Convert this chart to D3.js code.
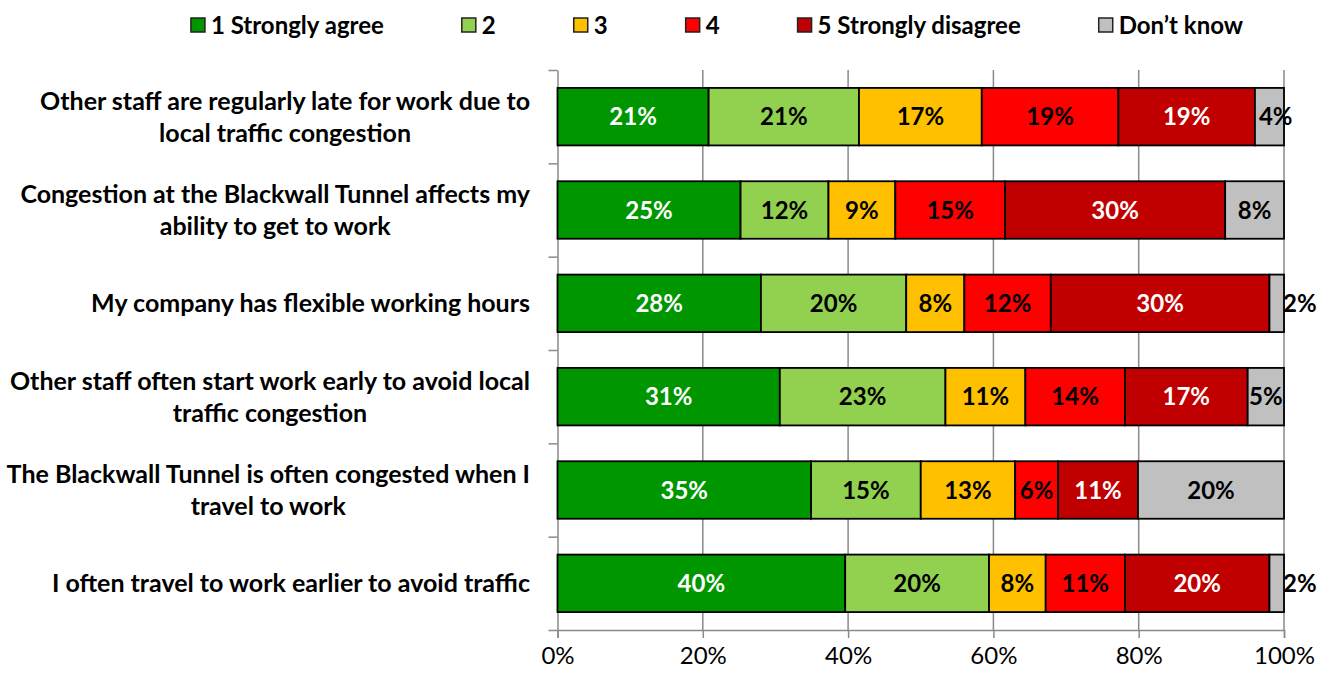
<!DOCTYPE html>
<html>
<head>
<meta charset="utf-8">
<script src="https://cdn.jsdelivr.net/npm/d3@7"></script>
<style>
  html, body { margin: 0; padding: 0; background: #fff; }
  svg { display: block; font-family: Lato, "Liberation Sans", sans-serif; }
</style>
</head>
<body>
<svg id="chart" width="1329" height="675"></svg>
<script>
// Survey statements (line breaks mark where each label wraps)
const categories = [
  "Other staff are regularly late for work due to\nlocal traffic congestion",
  "Congestion at the Blackwall Tunnel affects my\nability to get to work",
  "My company has flexible working hours",
  "Other staff often start work early to avoid local\ntraffic congestion",
  "The Blackwall Tunnel is often congested when I\ntravel to work",
  "I often travel to work earlier to avoid traffic"
];

// Response options
const seriesNames = ["1 Strongly agree", "2", "3", "4", "5 Strongly disagree", "Don’t know"];
const seriesColors = ["#009600", "#92D050", "#FFC000", "#FF0000", "#C00000", "#C0C0C0"];
const labelColors = ["#ffffff", "#000000", "#000000", "#000000", "#ffffff", "#000000"];

// Share of respondents (%) per statement, one array per response option
const stronglyAgree    = [20.8, 25.2, 28.0, 30.6, 34.9, 39.6];
const agree            = [20.7, 12.1, 20.0, 22.8, 15.1, 19.8];
const neutral          = [16.9,  9.2,  8.0, 11.0, 13.0,  7.8];
const disagree         = [18.8, 15.1, 11.9, 13.7,  5.9, 10.9];
const stronglyDisagree = [18.8, 30.3, 30.1, 16.9, 11.0, 19.9];
const dontKnow         = [ 4.0,  8.1,  2.0,  5.0, 20.1,  2.0];

const xTicks = [0, 20, 40, 60, 80, 100];

const seriesValues = [stronglyAgree, agree, neutral, disagree, stronglyDisagree, dontKnow];
const table = categories.map((c, i) => {
  const row = { category: c };
  seriesNames.forEach((s, j) => { row[s] = seriesValues[j][i]; });
  return row;
});

const svg = d3.select("#chart");
const plot = { left: 557.5, right: 1284, top: 70, bottom: 630 };

const x = d3.scaleLinear().domain([0, 100]).range([plot.left, plot.right]);
const y = d3.scaleBand().domain(categories).range([plot.top, plot.bottom])
  .paddingInner(0.384).paddingOuter(0.192);
const yEdges = d3.scaleLinear().domain([0, categories.length]).range([plot.top, plot.bottom]);

const gridColor = "#8a8a8a";

// Vertical gridlines
svg.append("g")
  .selectAll("line")
  .data(xTicks.slice(1))
  .join("line")
  .attr("x1", d => x(d)).attr("x2", d => x(d))
  .attr("y1", plot.top).attr("y2", plot.bottom)
  .attr("stroke", gridColor).attr("stroke-width", 1.5);

// Bottom axis
const xAxis = svg.append("g")
  .attr("transform", `translate(0,${plot.bottom})`)
  .call(d3.axisBottom(x).tickValues(xTicks).tickFormat(d => d + "%").tickSize(8).tickPadding(9));
xAxis.select(".domain").attr("stroke", gridColor).attr("stroke-width", 1.5);
xAxis.selectAll(".tick line").attr("stroke", gridColor).attr("stroke-width", 1.5);
xAxis.selectAll(".tick text")
  .attr("font-family", "Lato, 'Liberation Sans', sans-serif")
  .attr("font-size", 24).attr("fill", "#000").attr("dy", "0.7em");

// Left axis with ticks at category boundaries
const yAxis = svg.append("g")
  .attr("transform", `translate(${plot.left},0)`)
  .call(d3.axisLeft(yEdges).tickValues(d3.range(categories.length + 1)).tickFormat("").tickSize(9).tickSizeOuter(0));
yAxis.select(".domain").attr("stroke", gridColor).attr("stroke-width", 1.5);
yAxis.selectAll(".tick line").attr("stroke", gridColor).attr("stroke-width", 1.5);

// Stacked bars
const stacked = d3.stack().keys(seriesNames)(table);

const layers = svg.append("g")
  .selectAll("g")
  .data(stacked)
  .join("g")
  .attr("fill", (d, i) => seriesColors[i]);

layers.selectAll("rect")
  .data(d => d)
  .join("rect")
  .attr("x", d => x(d[0]))
  .attr("y", d => y(d.data.category))
  .attr("width", d => x(d[1]) - x(d[0]))
  .attr("height", y.bandwidth())
  .attr("stroke", "#000")
  .attr("stroke-width", 1.8);

// Value labels
const valueFontSize = 24;
stacked.forEach((layer, si) => {
  svg.append("g")
    .selectAll("text")
    .data(layer)
    .join("text")
    .text(d => Math.round(d[1] - d[0]) + "%")
    .attr("font-size", valueFontSize)
    .attr("font-weight", "bold")
    .attr("fill", labelColors[si])
    .attr("y", d => y(d.data.category) + y.bandwidth() / 2)
    .attr("dy", "0.36em")
    .each(function (d) {
      const w = x(d[1]) - x(d[0]);
      const t = d3.select(this);
      const tw = this.getComputedTextLength();
      if (w < 20) {
        // very thin segment: label sits just past the bar end
        t.attr("x", x(d[1]) - 1).attr("text-anchor", "start");
      } else if (tw > w) {
        // slightly too narrow: nudge label right so it stays readable
        t.attr("x", x(d[0]) + 4).attr("text-anchor", "start");
      } else {
        t.attr("x", (x(d[0]) + x(d[1])) / 2).attr("text-anchor", "middle");
      }
    });
});

// Category labels: lines centred on each other, block right-aligned to the axis
const catFontSize = 25;
const lineGap = 32;
const labelRight = 530;
const catGroup = svg.append("g");
categories.forEach(c => {
  const lines = c.split("\n");
  const cy = y(c) + y.bandwidth() / 2;
  const texts = lines.map((line, k) => catGroup.append("text")
    .text(line)
    .attr("font-size", catFontSize)
    .attr("font-weight", "bold")
    .attr("fill", "#000")
    .attr("text-anchor", "middle")
    .attr("y", cy + (k - (lines.length - 1) / 2) * lineGap)
    .attr("dy", "0.36em"));
  const maxW = d3.max(texts, t => t.node().getComputedTextLength());
  texts.forEach(t => t.attr("x", labelRight - maxW / 2));
});

// Legend
const legendFont = 24;
const legendY = 25;
const sq = 14;
const legendGap = 78;
const legend = svg.append("g");
let cursor = 0;
seriesNames.forEach((name, i) => {
  const g = legend.append("g").attr("transform", `translate(${cursor},0)`);
  g.append("rect")
    .attr("x", 0).attr("y", legendY - sq / 2)
    .attr("width", sq).attr("height", sq)
    .attr("fill", seriesColors[i])
    .attr("stroke", "#222").attr("stroke-width", 1.5);
  const t = g.append("text")
    .text(name)
    .attr("x", sq + 6).attr("y", legendY)
    .attr("dy", "0.36em")
    .attr("font-size", legendFont)
    .attr("font-weight", "bold")
    .attr("fill", "#000");
  cursor += sq + 6 + t.node().getComputedTextLength() + legendGap;
});
const legendWidth = cursor - legendGap;
legend.attr("transform", `translate(${717 - legendWidth / 2},0)`);
</script>
</body>
</html>
